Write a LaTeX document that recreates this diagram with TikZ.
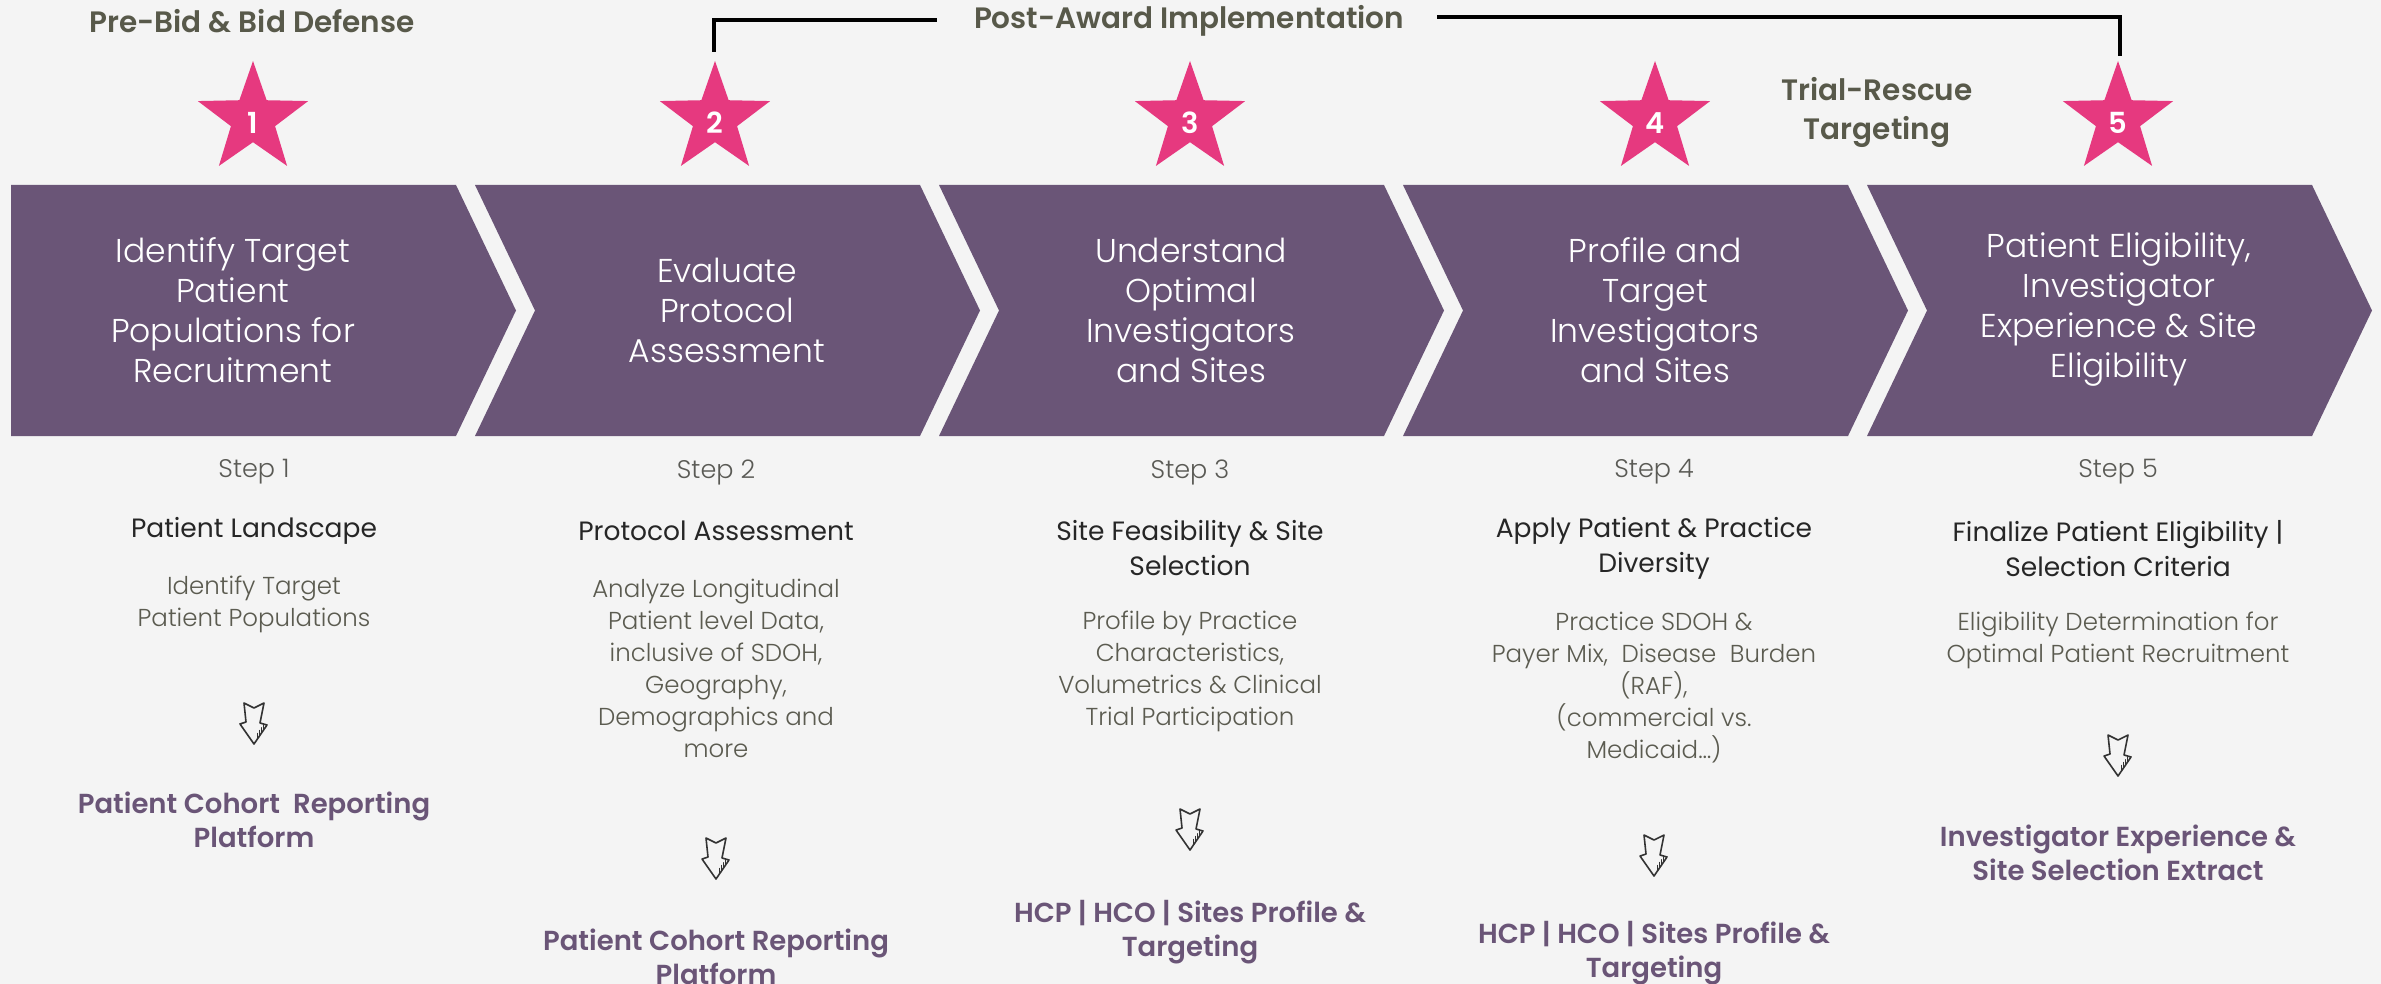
\documentclass[tikz,border=0pt]{standalone}
\usepackage{fontspec}
\setmainfont{Poppins}
\newfontfamily\lightfont{Poppins Light}
\newfontfamily\semifont{Poppins SemiBold}
\usetikzlibrary{shapes.geometric,calc}
\definecolor{bgc}{HTML}{F4F4F4}
\definecolor{chev}{HTML}{6A5577}
\definecolor{starpink}{HTML}{E6397F}
\definecolor{headc}{HTML}{58594A}
\definecolor{stepc}{HTML}{5A5A55}
\definecolor{titlec}{HTML}{262626}
\definecolor{descc}{HTML}{5B5B50}
\definecolor{iconc}{HTML}{333333}
\tikzset{
  chevtext/.style={text=white, align=center, inner sep=0pt, font=\lightfont\fontsize{33}{40}\selectfont},
  headtext/.style={text=headc, align=center, inner sep=0pt, font=\semifont\fontsize{29.5}{39}\selectfont},
  steplabel/.style={text=stepc, inner sep=0pt, font=\lightfont\fontsize{25.5}{30}\selectfont},
  titletext/.style={text=titlec, align=center, inner sep=0pt, font=\fontsize{26.5}{35}\selectfont},
  desctext/.style={text=descc, align=center, inner sep=0pt, font=\lightfont\fontsize{24.5}{32}\selectfont},
  outtext/.style={text=chev, align=center, inner sep=0pt, font=\semifont\fontsize{27.5}{34}\selectfont},
  starbox/.style={star, star points=5, star point ratio=2.5, minimum size=116pt, inner sep=0pt, fill=starpink},
  starnum/.style={text=white, inner sep=0pt, font=\semifont\fontsize{29}{29}\selectfont},
  bracket/.style={line width=4.5pt, black, line cap=butt, line join=miter},
  downicon/.pic={
    \draw[iconc, line width=1.6pt, line join=round, line cap=round]
      (-10,-20) -- (0,-15) -- (10,-20) -- (6,0) -- (13,2) -- (0,21) -- (-14,1) -- (-8,-1) -- cycle;
    \foreach \t in {0.25,0.4,0.55,0.7}
      \draw[iconc, line width=1.1pt, line cap=round] ($(13,2)!\t!(0,21)$) -- ++(0,-5);
  }
}
\begin{document}
\begin{tikzpicture}[x=1pt,y=-1pt]
\useasboundingbox (0,0) rectangle (2381,984);
\fill[bgc] (0,0) rectangle (2381,984);

% chevrons
\fill[chev] (11,185) -- (456,185) -- (516,310.5) -- (456,436) -- (11,436) -- cycle;
\foreach \L in {475,939,1403,1867}{
  \fill[chev] (\L,185) -- (\L+445,185) -- (\L+505,310.5) -- (\L+445,436) -- (\L,436) -- (\L+60,310.5) -- cycle;
}

% chevron texts
\node[chevtext] (c1) at (233,310) {Identify Target\\Patient\\Populations for\\Recruitment};
\node[chevtext] (c2) at (727,310) {Evaluate\\Protocol\\Assessment};
\node[chevtext] (c3) at (1191,310) {Understand\\Optimal\\Investigators\\and Sites};
\node[chevtext] (c4) at (1655,310) {Profile and\\Target\\Investigators\\and Sites};
\node[chevtext] (c5) at (2119,310) {Patient Eligibility,\\Investigator\\Experience \& Site\\Eligibility};

% headers
\node[headtext] (h1) at (252,21) {Pre-Bid \& Bid Defense};
\node[headtext] (h2) at (1189,21) {Post-Award Implementation};
\node[headtext] (h3) at (1877,112) {Trial-Rescue\\Targeting};

% stars
\foreach \i/\x in {1/253,2/715,3/1190,4/1655,5/2118}{
  \node[starbox] (s\i) at (\x,119) {};
  \node[starnum] (n\i) at (\x,123) {\i};
}

% bracket
\coordinate (bl) at (714,52);
\coordinate (br) at (2120,56);
\draw[bracket] (bl) -- (714,20) -- (937,20);
\draw[bracket] (1437,17) -- (2120,17) -- (br);

% step labels
\foreach \i/\x in {1/254,2/716,3/1190,4/1654,5/2118}{
  \node[steplabel] (st\i) at (\x,472) {Step \i};
}

% titles
\node[titletext] (t1) at (254,531) {Patient Landscape};
\node[titletext] (t2) at (716,531) {Protocol Assessment};
\node[titletext] (t3) at (1190,548.5) {Site Feasibility \& Site\\Selection};
\node[titletext] (t4) at (1654,548.5) {Apply Patient \& Practice\\Diversity};
\node[titletext] (t5) at (2118,548.5) {Finalize Patient Eligibility |\\Selection Criteria};

% descriptions
\node[desctext] (d1) at (254,604.5) {Identify Target\\Patient Populations};
\node[desctext] (d2) at (716,668) {Analyze Longitudinal\\Patient level Data,\\inclusive of SDOH,\\Geography,\\Demographics and\\more};
\node[desctext] (d3) at (1190,671) {Profile by Practice\\Characteristics,\\Volumetrics \& Clinical\\Trial Participation};
\node[desctext] (d4) at (1654,688) {Practice SDOH \&\\Payer Mix,\ \ Disease\ \ Burden\\(RAF),\\(commercial vs.\\Medicaid…)};
\node[desctext] (d5) at (2118,640) {Eligibility Determination for\\Optimal Patient Recruitment};

% icons
\pic at (254,723) {downicon};
\pic at (716,858) {downicon};
\pic at (1190,829) {downicon};
\pic at (1654,855) {downicon};
\pic at (2118,755) {downicon};

% outputs
\node[outtext] (o1) at (254,820) {Patient Cohort\ \ Reporting\\Platform};
\node[outtext] (o2) at (716,956.5) {Patient Cohort Reporting\\Platform};
\node[outtext] (o3) at (1190,932.5) {HCP | HCO | Sites Profile \&\\Targeting};
\node[outtext] (o4) at (1654,953) {HCP | HCO | Sites Profile \&\\Targeting};
\node[outtext] (o5) at (2118,852.5) {Investigator Experience \&\\Site Selection Extract};
\end{tikzpicture}
\end{document}
